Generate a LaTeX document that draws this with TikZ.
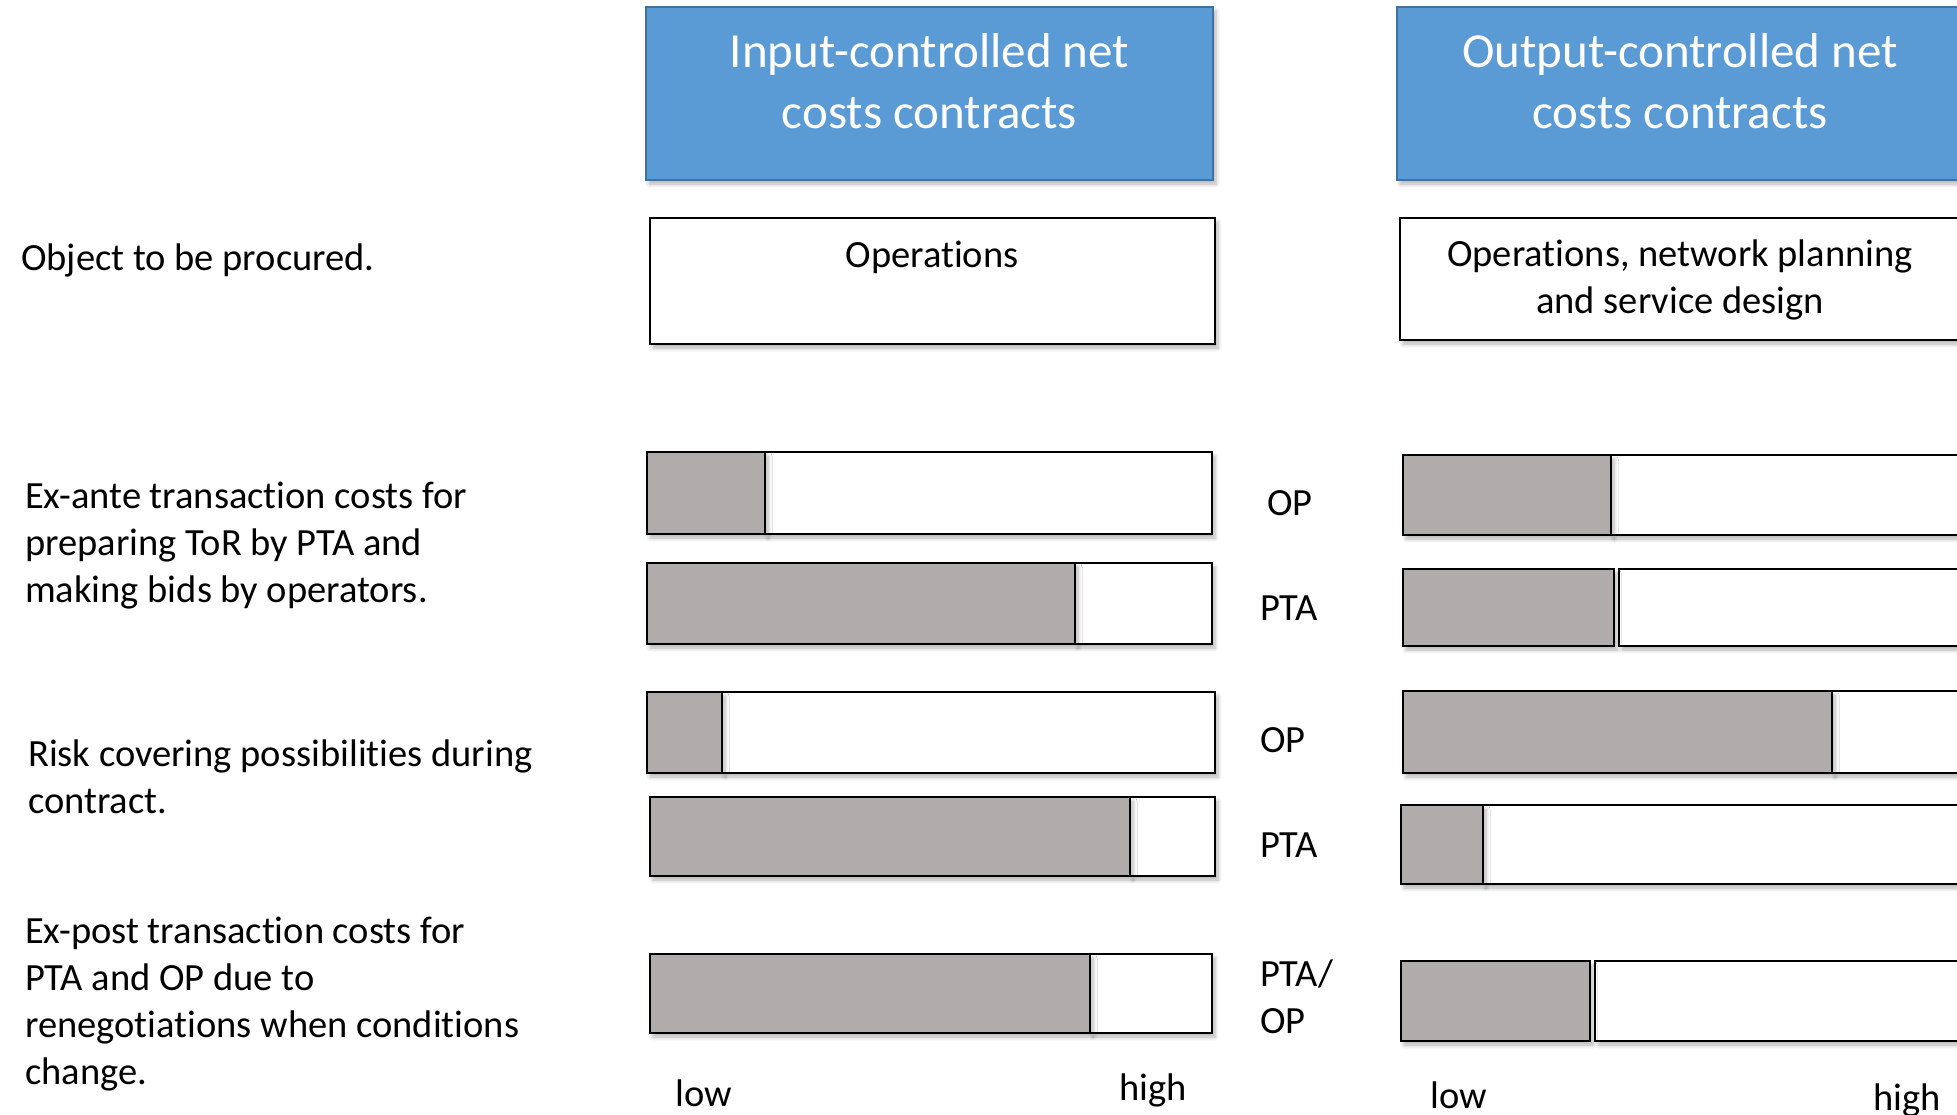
\documentclass[tikz,border=0pt]{standalone}
\usepackage{fontspec}
\setmainfont{Carlito}[Ligatures=NoCommon]
\usetikzlibrary{shadows.blur}

\definecolor{headblue}{RGB}{91,155,213}
\definecolor{headline}{RGB}{65,113,156}
\definecolor{bargray}{RGB}{175,172,171}

\tikzset{
  soft/.style={blur shadow={shadow xshift=3pt, shadow yshift=-4pt,
      shadow blur radius=4pt, shadow blur steps=6, shadow opacity=30}},
  headbox/.style={fill=headblue, draw=headline, line width=2pt, soft},
  objbox/.style={fill=white, draw=black, line width=2.8pt, soft},
  lowseg/.style={fill=bargray, draw=black, line width=2.8pt, soft},
  highseg/.style={fill=white, draw=black, line width=2.8pt, soft},
  txt/.style={font=\fontsize{38.5}{47}\selectfont, inner sep=0pt, align=left, anchor=base west},
  headtxt/.style={font=\fontsize{49}{61}\selectfont, text=white, inner sep=0pt, align=center, anchor=base},
}

% #1 left, #2 end of gray, #3 start of white, #4 right, #5 top, #6 bottom
\newcommand{\costbar}[6]{%
  \draw[highseg] (#3,#5) rectangle (#4,#6);
  \draw[lowseg] (#1,#5) rectangle (#2,#6);
}

\begin{document}
\begin{tikzpicture}[x=1pt, y=-1pt]
  \useasboundingbox (0,0) rectangle (1957,1114);

  % column heads (multi-line nodes sit on their last baseline)
  \draw[headbox] (646,7) rectangle (1213,180);
  \node[headtxt] (inhead) at (929.5,128) {Input-controlled net\\costs contracts};
  \draw[headbox] (1397,7) rectangle (1964,180);
  \node[headtxt] (outhead) at (1680,128) {Output-controlled net\\costs contracts};

  % object to be procured
  \node[txt] (objlabel) at (21,270) {Object to be procured.};
  \draw[objbox] (650,218) rectangle (1215,344);
  \node[txt, anchor=base, align=center] (inobj) at (932,267) {Operations};
  \draw[objbox] (1400,218) rectangle (1975,340);
  \node[txt, anchor=base, align=center] (outobj) at (1680,313) {Operations, network planning\\and service design};

  % row labels
  \node[txt] (exante) at (25,602) {Ex-ante transaction costs for\\preparing ToR by PTA and\\making bids by operators.};
  \node[txt] (risk) at (28,813) {Risk covering possibilities during\\contract.};
  \node[txt] (expost) at (25,1084) {Ex-post transaction costs for\\PTA and OP due to\\renegotiations when conditions\\change.};

  % input-controlled bars
  \costbar{647}{765}{765}{1212}{452}{534}
  \costbar{647}{1075}{1075}{1212}{563}{644}
  \costbar{647}{722}{722}{1215}{692}{773}
  \costbar{650}{1130}{1130}{1215}{797}{876}
  \costbar{650}{1090}{1090}{1212}{954}{1033}

  % output-controlled bars
  \costbar{1403}{1611}{1611}{1990}{455}{535}
  \costbar{1403}{1614}{1619}{1990}{569}{646}
  \costbar{1403}{1832}{1832}{1990}{691}{773}
  \costbar{1401}{1483}{1483}{1990}{805}{884}
  \costbar{1401}{1590}{1595}{1990}{961}{1041}

  % actors
  \node[txt] (op1) at (1267,515) {OP};
  \node[txt] (pta1) at (1260,620) {PTA};
  \node[txt] (op2) at (1260,752) {OP};
  \node[txt] (pta2) at (1260,857) {PTA};
  \node[txt] (both) at (1260,1033) {PTA/\\OP};

  % scale
  \node[txt] (inlow) at (675,1106) {low};
  \node[txt] (inhigh) at (1119,1100) {high};
  \node[txt] (outlow) at (1430,1108) {low};
  \node[txt] (outhigh) at (1873,1110) {high};
\end{tikzpicture}
\end{document}
